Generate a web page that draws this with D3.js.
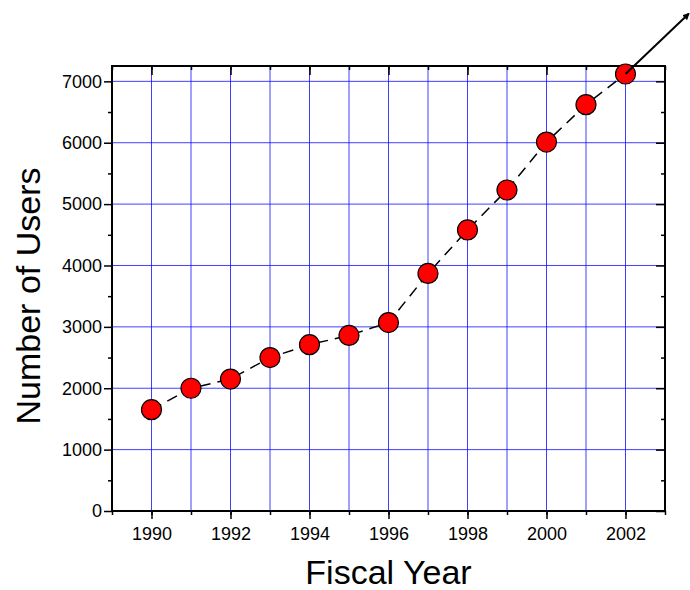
<!DOCTYPE html>
<html>
<head>
<meta charset="utf-8">
<script src="https://cdn.jsdelivr.net/npm/d3@7"></script>
<style>
  body { margin: 0; background: #fff; }
  text { font-family: Arial, "Liberation Sans", sans-serif; fill: #000; }
</style>
</head>
<body>
<div id="chart"></div>
<script>
// data
var years = [1990, 1991, 1992, 1993, 1994, 1995, 1996, 1997, 1998, 1999, 2000, 2001, 2002]
var users = [1650, 2000, 2150, 2500, 2710, 2860, 3070, 3870, 4580, 5230, 6010, 6620, 7120]
var xTickYears = [1990, 1992, 1994, 1996, 1998, 2000, 2002]
var yTickValues = [0, 1000, 2000, 3000, 4000, 5000, 6000, 7000]
var arrowEnd = [2003.6, 8100]

var width = 690, height = 590
var margin = {top: 66, right: 25, bottom: 79, left: 112}

var svg = d3.select('#chart').append('svg')
  .attr('width', width)
  .attr('height', height)

var x = d3.scaleLinear().domain([1989, 2003]).range([margin.left, width - margin.right])
var y = d3.scaleLinear().domain([0, 7250]).range([height - margin.bottom, margin.top])

var defs = svg.append('defs')
defs.append('marker')
  .attr('id', 'arrow')
  .attr('viewBox', '0 0 10 10')
  .attr('refX', 8).attr('refY', 5)
  .attr('markerWidth', 3.5).attr('markerHeight', 3.5)
  .attr('orient', 'auto')
  .append('path')
  .attr('d', 'M0,0 L10,5 L0,10 z')
  .attr('fill', '#000')

// grid
var allYears = d3.range(1990, 2003)
svg.append('g').selectAll('line').data(allYears).enter()
  .append('line')
  .attr('x1', function(d){ return x(d) })
  .attr('x2', function(d){ return x(d) })
  .attr('y1', y.range()[0])
  .attr('y2', y.range()[1])
  .attr('stroke', '#0000ff')
  .attr('stroke-opacity', 0.75)
  .attr('stroke-width', 1)

svg.append('g').selectAll('line').data(yTickValues.slice(1)).enter()
  .append('line')
  .attr('x1', x.range()[0])
  .attr('x2', x.range()[1])
  .attr('y1', function(d){ return y(d) })
  .attr('y2', function(d){ return y(d) })
  .attr('stroke', '#0000ff')
  .attr('stroke-opacity', 0.75)
  .attr('stroke-width', 1)

// axes
var xMinor = d3.range(1989, 2004)
var yMinor = d3.range(500, 7250, 1000)

function styleAxis(g){
  g.select('.domain').remove()
  g.selectAll('line').attr('stroke', '#000').attr('stroke-width', 1.5)
  g.selectAll('text').attr('font-size', 18).style('font-family', 'Arial, "Liberation Sans", sans-serif')
}

// bottom
svg.append('g')
  .attr('transform', 'translate(0,' + y(0) + ')')
  .call(d3.axisBottom(x).tickValues(xMinor).tickSize(4).tickFormat(''))
  .call(styleAxis)
svg.append('g')
  .attr('transform', 'translate(0,' + y(0) + ')')
  .call(d3.axisBottom(x).tickValues(xTickYears).tickSize(8).tickPadding(8).tickFormat(d3.format('d')))
  .call(styleAxis)
// top (inward)
svg.append('g')
  .attr('transform', 'translate(0,' + y.range()[1] + ')')
  .call(d3.axisBottom(x).tickValues(xMinor).tickSize(4).tickFormat(''))
  .call(styleAxis)
svg.append('g')
  .attr('transform', 'translate(0,' + y.range()[1] + ')')
  .call(d3.axisBottom(x).tickValues(xTickYears).tickSize(9).tickFormat(''))
  .call(styleAxis)
// left
svg.append('g')
  .attr('transform', 'translate(' + x(1989) + ',0)')
  .call(d3.axisLeft(y).tickValues(yMinor).tickSize(4).tickFormat(''))
  .call(styleAxis)
svg.append('g')
  .attr('transform', 'translate(' + x(1989) + ',0)')
  .call(d3.axisLeft(y).tickValues(yTickValues).tickSize(8).tickPadding(2).tickFormat(d3.format('d')))
  .call(styleAxis)
// right (inward)
svg.append('g')
  .attr('transform', 'translate(' + x(2003) + ',0)')
  .call(d3.axisLeft(y).tickValues(yMinor).tickSize(4).tickFormat(''))
  .call(styleAxis)
svg.append('g')
  .attr('transform', 'translate(' + x(2003) + ',0)')
  .call(d3.axisLeft(y).tickValues(yTickValues).tickSize(9).tickFormat(''))
  .call(styleAxis)

// frame
svg.append('rect')
  .attr('x', x(1989))
  .attr('y', y.range()[1])
  .attr('width', x(2003) - x(1989))
  .attr('height', y(0) - y.range()[1])
  .attr('fill', 'none')
  .attr('stroke', '#000')
  .attr('stroke-width', 2)

// series line
var pts = years.map(function(d, i){ return [d, users[i]] })
var line = d3.line().x(function(d){ return x(d[0]) }).y(function(d){ return y(d[1]) })

svg.append('path')
  .datum(pts)
  .attr('d', line)
  .attr('fill', 'none')
  .attr('stroke', '#000')
  .attr('stroke-width', 1.5)
  .attr('stroke-dasharray', '11,7')

svg.append('g').selectAll('circle').data(pts).enter()
  .append('circle')
  .attr('cx', function(d){ return x(d[0]) })
  .attr('cy', function(d){ return y(d[1]) })
  .attr('r', 10)
  .attr('fill', '#ff0000')
  .attr('stroke', '#000')
  .attr('stroke-width', 1.2)

// arrow from the last point, drawn over its circle like the reference
var last = pts[pts.length - 1]
svg.append('line')
  .attr('x1', x(last[0]))
  .attr('y1', y(last[1]))
  .attr('x2', x(arrowEnd[0]))
  .attr('y2', y(arrowEnd[1]))
  .attr('stroke', '#000')
  .attr('stroke-width', 2)
  .attr('marker-end', 'url(#arrow)')

// axis titles
svg.append('text')
  .attr('x', (x.range()[0] + x.range()[1]) / 2)
  .attr('y', 584)
  .attr('text-anchor', 'middle')
  .attr('font-size', 34)
  .text('Fiscal Year')

svg.append('text')
  .attr('transform', 'translate(40,296) rotate(-90)')
  .attr('text-anchor', 'middle')
  .attr('font-size', 34)
  .text('Number of Users')
</script>
</body>
</html>
